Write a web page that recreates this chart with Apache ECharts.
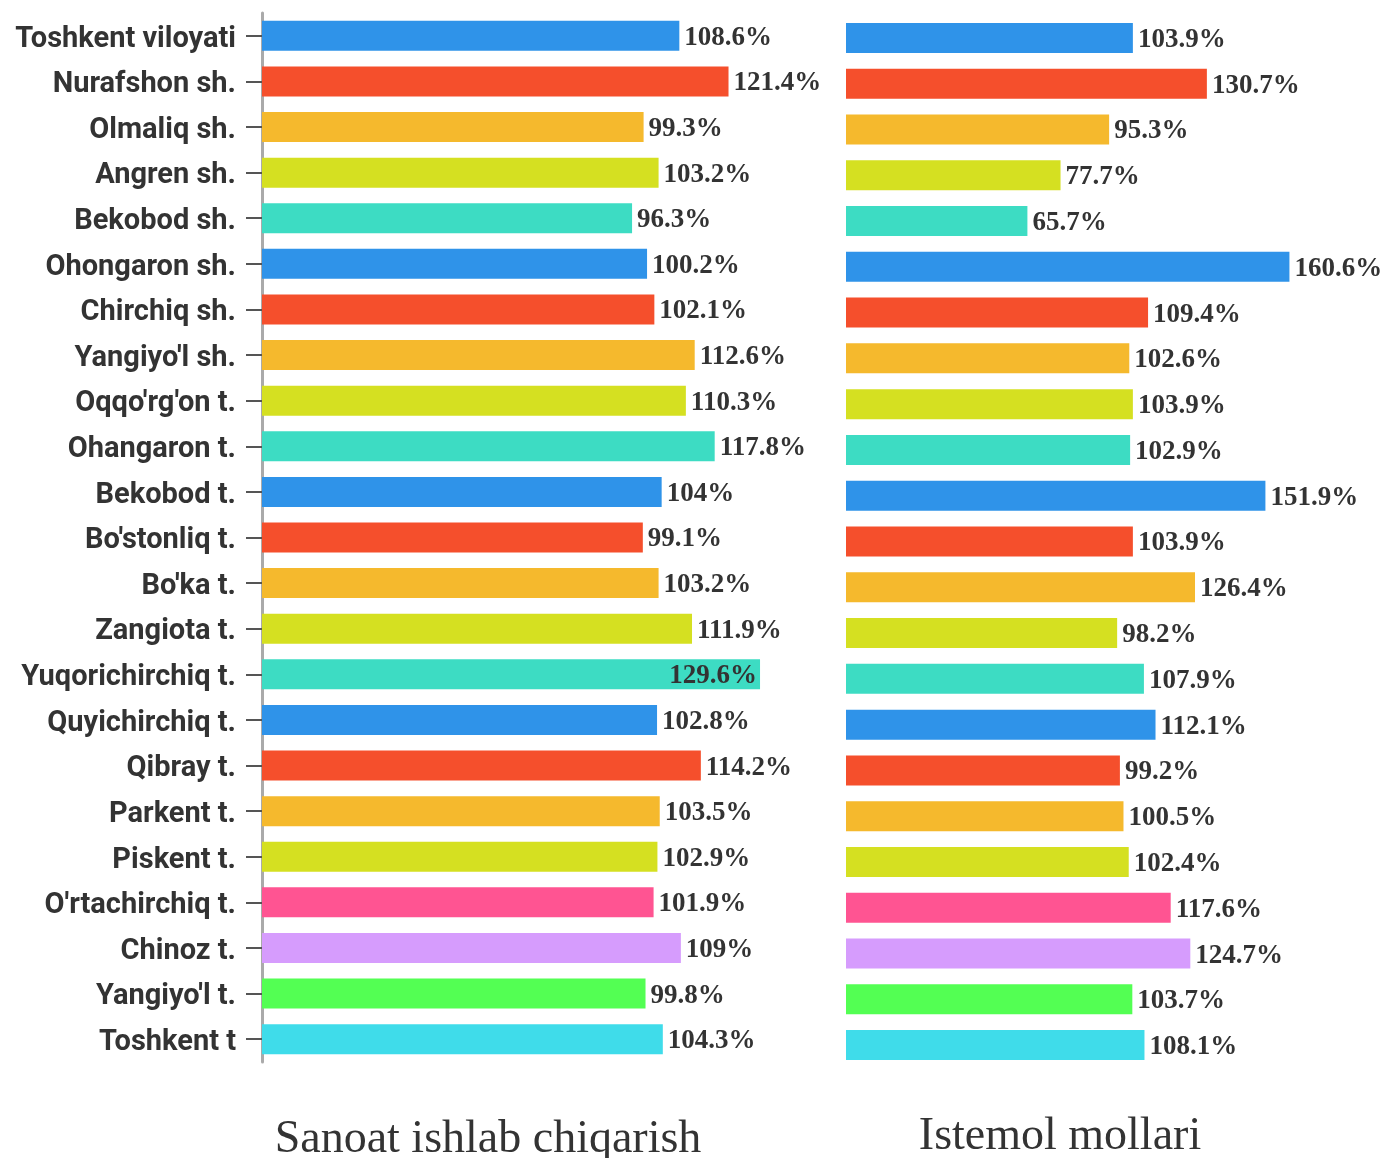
<!DOCTYPE html>
<html>
<head>
<meta charset="utf-8">
<script src="https://cdn.jsdelivr.net/npm/echarts@6/dist/echarts.min.js"></script>
<style>
html,body{margin:0;padding:0;background:#fff;}
#chart{width:1387px;height:1158px;}
</style>
</head>
<body>
<div id="chart"></div>
<script>
const categories = ["Toshkent viloyati","Nurafshon sh.","Olmaliq sh.","Angren sh.","Bekobod sh.","Ohongaron sh.","Chirchiq sh.","Yangiyo'l sh.","Oqqo'rg'on t.","Ohangaron t.","Bekobod t.","Bo'stonliq t.","Bo'ka t.","Zangiota t.","Yuqorichirchiq t.","Quyichirchiq t.","Qibray t.","Parkent t.","Piskent t.","O'rtachirchiq t.","Chinoz t.","Yangiyo'l t.","Toshkent t"];
const sanoat = [108.6,121.4,99.3,103.2,96.3,100.2,102.1,112.6,110.3,117.8,104,99.1,103.2,111.9,129.6,102.8,114.2,103.5,102.9,101.9,109,99.8,104.3];
const istemol = [103.9,130.7,95.3,77.7,65.7,160.6,109.4,102.6,103.9,102.9,151.9,103.9,126.4,98.2,107.9,112.1,99.2,100.5,102.4,117.6,124.7,103.7,108.1];
const barColors = ["#2f93e9","#f54f2c","#f5b92d","#d5e021","#3ddcc3","#2f93e9","#f54f2c","#f5b92d","#d5e021","#3ddcc3","#2f93e9","#f54f2c","#f5b92d","#d5e021","#3ddcc3","#2f93e9","#f54f2c","#f5b92d","#d5e021","#ff5492","#d69cfd","#53ff53","#3fdcea"];
const titles = ["Sanoat ishlab chiqarish","Istemol mollari"];
const insideLabelIndex = 14;

const labelFont = {fontFamily:"'Liberation Serif','Times New Roman',serif",fontSize:27,fontWeight:'bold',color:'#333'};

function makeData(vals, insideIdx){
  return vals.map((v,i)=>{
    const d = {value:v, itemStyle:{color:barColors[i]}};
    if(i===insideIdx){ d.label = {position:'insideRight', distance:3}; }
    return d;
  });
}

const chart = echarts.init(document.getElementById('chart'), null, {renderer:'canvas'});
chart.setOption({
  animation:false,
  backgroundColor:'#fff',
  title:[
    {text:titles[0], left:483, top:1112, textAlign:'center', textStyle:{fontFamily:"'Liberation Serif','Times New Roman',serif",fontSize:46,fontWeight:'normal',color:'#333'}},
    {text:titles[1], left:1055, top:1109, textAlign:'center', textStyle:{fontFamily:"'Liberation Serif','Times New Roman',serif",fontSize:46,fontWeight:'normal',color:'#333'}}
  ],
  grid:[
    {left:262, top:13, width:538, height:1049},
    {left:846, top:15, width:497, height:1053}
  ],
  xAxis:[
    {gridIndex:0, type:'value', min:0, max:140, show:false},
    {gridIndex:1, type:'value', min:0, max:180, show:false}
  ],
  yAxis:[
    {gridIndex:0, type:'category', data:categories, inverse:true,
     axisLine:{show:true, lineStyle:{color:'#aaa', width:3}},
     axisTick:{show:true, length:16, alignWithLabel:true, lineStyle:{color:'#555', width:2}},
     axisLabel:{margin:26, fontFamily:"Roboto,sans-serif", fontWeight:'bold', fontSize:29, color:'#333',
       formatter:function(v){return '{a|' + v + '}';},
       rich:{a:{fontFamily:"Roboto,sans-serif", fontWeight:'bold', fontSize:29, color:'#333', padding:[7,0,0,0]}}},
     splitLine:{show:false}},
    {gridIndex:1, type:'category', data:categories, inverse:true, show:false}
  ],
  series:[
    {type:'bar', xAxisIndex:0, yAxisIndex:0, barWidth:30, data:makeData(sanoat, insideLabelIndex),
     label:Object.assign({show:true, position:'right', distance:5, offset:[0,2], formatter:'{c}%'}, labelFont)},
    {type:'bar', xAxisIndex:1, yAxisIndex:1, barWidth:30, data:makeData(istemol, -1),
     label:Object.assign({show:true, position:'right', distance:5, offset:[0,2], formatter:'{c}%'}, labelFont)}
  ]
});
</script>
</body>
</html>
